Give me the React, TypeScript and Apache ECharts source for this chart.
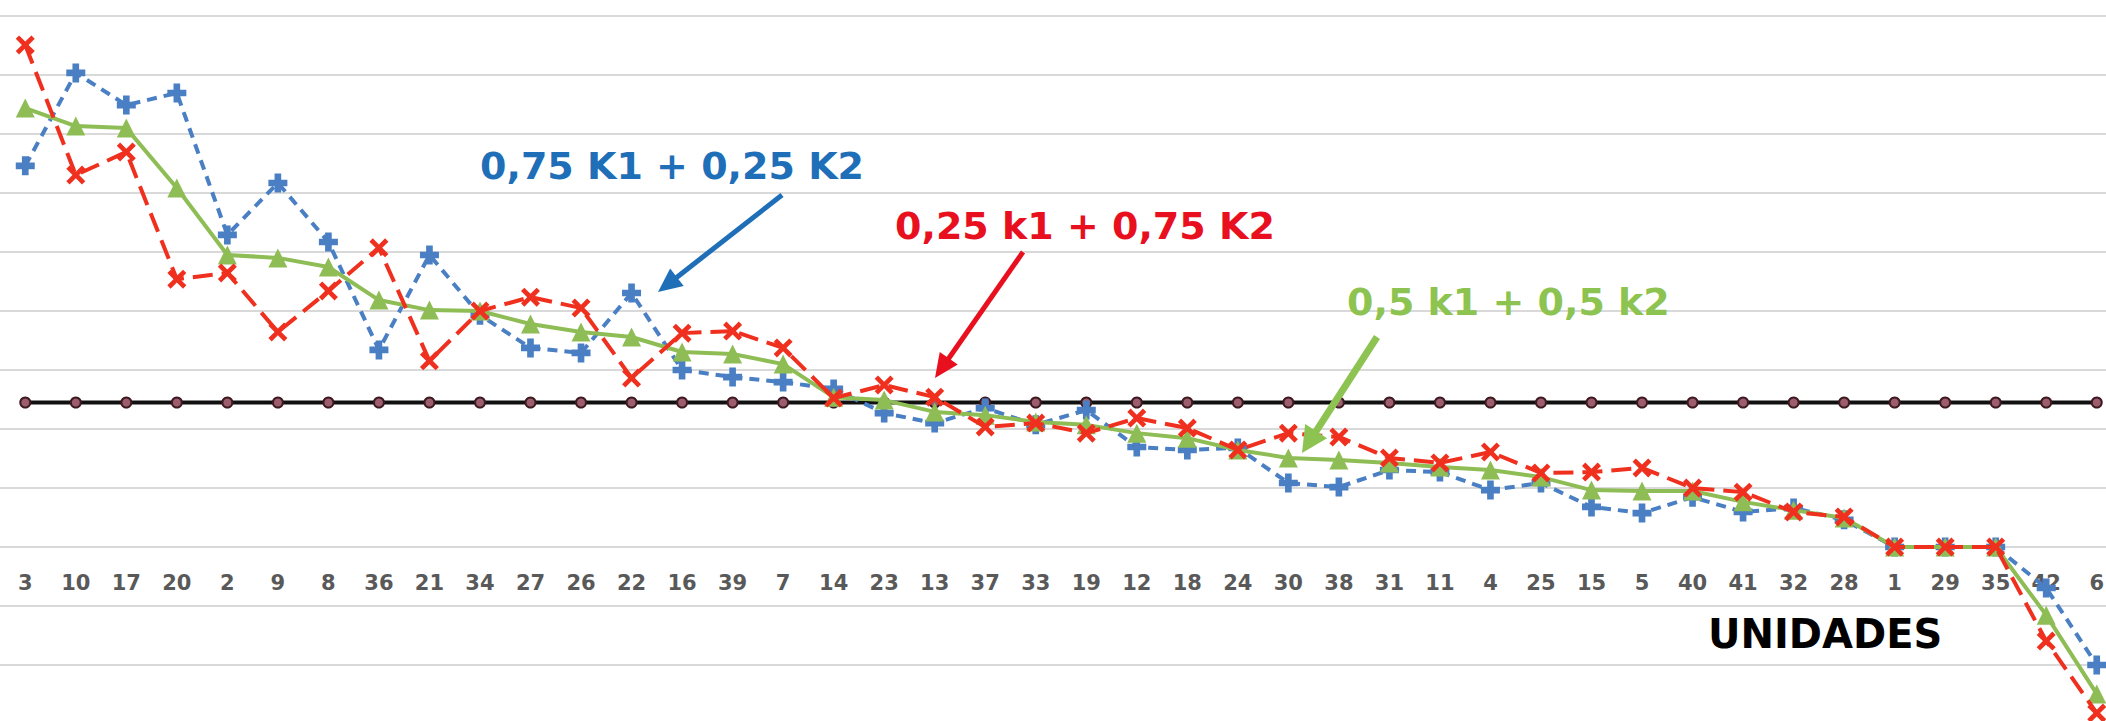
import React, { useEffect, useRef } from "react";
import * as echarts from "echarts";

// Units (x axis categories)
const categories = [
  "3", "10", "17", "20", "2", "9", "8", "36", "21", "34", "27", "26", "22", "16",
  "39", "7", "14", "23", "13", "37", "33", "19", "12", "18", "24", "30", "38", "31",
  "11", "4", "25", "15", "5", "40", "41", "32", "28", "1", "29", "35", "42", "6",
];

// 0,75 K1 + 0,25 K2 (blue, dashed)
const seriesBlue = [
  1.292, 1.607, 1.498, 1.539, 1.058, 1.234, 1.034, 0.668, 0.99, 0.786, 0.675, 0.658, 0.861, 0.6,
  0.576, 0.559, 0.536, 0.454, 0.42, 0.471, 0.414, 0.464, 0.339, 0.329, 0.336, 0.217, 0.203, 0.261,
  0.254, 0.193, 0.217, 0.136, 0.115, 0.169, 0.119, 0.132, 0.092, 0, 0, 0, -0.139, -0.4,
];

// 0,25 k1 + 0,75 K2 (red, long dashes)
const seriesRed = [
  1.702, 1.261, 1.339, 0.908, 0.929, 0.729, 0.868, 1.014, 0.631, 0.8, 0.847, 0.81, 0.573, 0.725,
  0.732, 0.675, 0.505, 0.549, 0.508, 0.407, 0.42, 0.386, 0.437, 0.403, 0.329, 0.386, 0.373, 0.302,
  0.285, 0.322, 0.251, 0.254, 0.268, 0.2, 0.186, 0.119, 0.102, 0, 0, 0, -0.319, -0.563,
];

// 0,5 k1 + 0,5 k2 (green, solid)
const seriesGreen = [
  1.488, 1.427, 1.42, 1.217, 0.99, 0.98, 0.949, 0.837, 0.803, 0.8, 0.756, 0.729, 0.712, 0.661,
  0.654, 0.62, 0.508, 0.498, 0.458, 0.447, 0.424, 0.414, 0.386, 0.369, 0.329, 0.302, 0.295, 0.285,
  0.271, 0.261, 0.237, 0.193, 0.19, 0.19, 0.153, 0.125, 0.098, 0, 0, 0, -0.231, -0.498,
];

// Reference line (black)
const seriesReference = [
  0.49, 0.49, 0.49, 0.49, 0.49, 0.49, 0.49, 0.49, 0.49, 0.49, 0.49, 0.49, 0.49, 0.49,
  0.49, 0.49, 0.49, 0.49, 0.49, 0.49, 0.49, 0.49, 0.49, 0.49, 0.49, 0.49, 0.49, 0.49,
  0.49, 0.49, 0.49, 0.49, 0.49, 0.49, 0.49, 0.49, 0.49, 0.49, 0.49, 0.49, 0.49, 0.49,
];

const labelBlue = "0,75 K1 + 0,25 K2";
const labelRed = "0,25 k1 + 0,75 K2";
const labelGreen = "0,5 k1 + 0,5 k2";
const axisTitle = "UNIDADES";

const FONT = '"DejaVu Sans", "Noto Sans", sans-serif';

const PLUS_SYMBOL =
  "path://M-3.5,-10 L3.5,-10 L3.5,-3.5 L10,-3.5 L10,3.5 L3.5,3.5 L3.5,10 L-3.5,10 L-3.5,3.5 L-10,3.5 L-10,-3.5 L-3.5,-3.5 Z";
const X_SYMBOL =
  "path://M-10,-6.5 L-6.5,-10 L0,-3.5 L6.5,-10 L10,-6.5 L3.5,0 L10,6.5 L6.5,10 L0,3.5 L-6.5,10 L-10,6.5 L-3.5,0 Z";

function arrow(
  x1: number, y1: number, x2: number, y2: number,
  color: string, width: number, headLen: number, headHalf: number
) {
  const dx = x2 - x1;
  const dy = y2 - y1;
  const len = Math.hypot(dx, dy);
  const ux = dx / len;
  const uy = dy / len;
  const bx = x2 - ux * headLen;
  const by = y2 - uy * headLen;
  const nx = -uy;
  const ny = ux;
  return [
    {
      type: "line",
      z: 100,
      shape: { x1, y1, x2: bx + ux * 2, y2: by + uy * 2 },
      style: { stroke: color, lineWidth: width },
    },
    {
      type: "polygon",
      z: 100,
      shape: {
        points: [
          [x2, y2],
          [bx + nx * headHalf, by + ny * headHalf],
          [bx - nx * headHalf, by - ny * headHalf],
        ],
      },
      style: { fill: color },
    },
  ];
}

function label(text: string, x: number, y: number, color: string, size: number) {
  return {
    type: "text",
    z: 100,
    x,
    y,
    style: {
      text,
      fill: color,
      fontSize: size,
      fontWeight: "bold",
      fontFamily: FONT,
      align: "left",
      verticalAlign: "middle",
    },
  };
}

export default function App() {
  const ref = useRef<HTMLDivElement>(null);

  useEffect(() => {
    if (!ref.current) return;
    const chart = echarts.init(ref.current, null, { renderer: "svg" });

    const option: any = {
      animation: false,
      backgroundColor: "#ffffff",
      grid: {
        left: 0,
        right: -16,
        top: 16,
        bottom: -3,
        containLabel: false,
        outerBoundsMode: "none",
      },
      xAxis: {
        type: "category",
        data: categories,
        boundaryGap: true,
        position: "bottom",
        offset: -177,
        axisLine: { show: false, onZero: false },
        axisTick: { show: false },
        splitLine: { show: false },
        axisLabel: {
          interval: 0,
          margin: 25,
          color: "#595959",
          fontSize: 21,
          fontWeight: "bold",
          fontFamily: FONT,
        },
      },
      yAxis: {
        type: "value",
        min: -0.6,
        max: 1.8,
        interval: 0.2,
        axisLine: { show: false },
        axisTick: { show: false },
        axisLabel: { show: false },
        splitLine: { show: true, lineStyle: { color: "#d9d9d9", width: 2 } },
      },
      series: [
        {
          name: "Referencia",
          type: "line",
          data: seriesReference,
          symbol: "circle",
          symbolSize: 10,
          lineStyle: { color: "#111111", width: 4 },
          itemStyle: { color: "#9c5d6c", borderColor: "#3d1a22", borderWidth: 2 },
          z: 2,
        },
        {
          name: labelBlue,
          type: "line",
          data: seriesBlue,
          symbol: PLUS_SYMBOL,
          symbolSize: 19,
          lineStyle: { color: "#4a7fc4", width: 4, type: [10, 7] },
          itemStyle: { color: "#4a7fc4" },
          z: 3,
        },
        {
          name: labelGreen,
          type: "line",
          data: seriesGreen,
          symbol: "triangle",
          symbolSize: 19,
          lineStyle: { color: "#8fbd55", width: 4 },
          itemStyle: { color: "#8fbd55" },
          z: 4,
        },
        {
          name: labelRed,
          type: "line",
          data: seriesRed,
          symbol: X_SYMBOL,
          symbolSize: 19,
          lineStyle: { color: "#f0301e", width: 4, type: [20, 9] },
          itemStyle: { color: "#f0301e" },
          z: 5,
        },
      ],
      graphic: [
        label(labelBlue, 480, 166, "#1f6fb8", 38),
        ...arrow(782, 195, 658, 292, "#1f6fb8", 5, 24, 11),
        label(labelRed, 895, 226, "#e8101e", 38),
        ...arrow(1023, 252, 935, 378, "#e8101e", 5, 24, 11),
        label(labelGreen, 1347, 302, "#8dc350", 38),
        ...arrow(1377, 337, 1302, 453, "#8dc350", 7, 26, 13),
        label(axisTitle, 1708, 634, "#000000", 40),
      ],
    };

    chart.setOption(option);
    return () => chart.dispose();
  }, []);

  return (
    <div
      ref={ref}
      style={{ position: "fixed", left: 0, top: 0, width: 2106, height: 721 }}
    />
  );
}
